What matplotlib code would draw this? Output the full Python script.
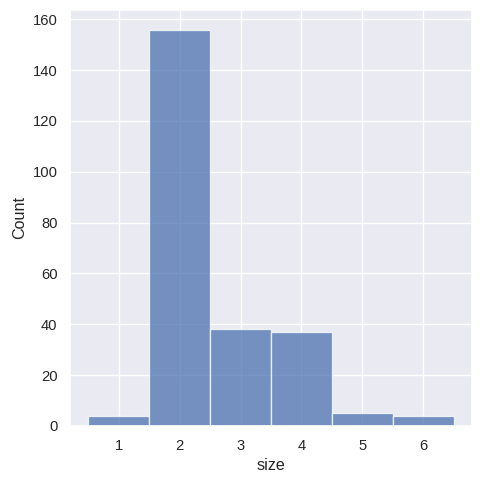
import matplotlib
matplotlib.use("Agg")
import matplotlib.pyplot as plt
import seaborn as sns

sizes = [1, 2, 3, 4, 5, 6]
counts = [4, 156, 38, 37, 5, 4]

sns.set_theme()
plt.rcParams["font.family"] = ["Liberation Sans", "DejaVu Sans"]

fig, ax = plt.subplots(figsize=(5, 5), dpi=96.8)
ax.bar(sizes, counts, width=1.0, color="#4C72B0", alpha=0.75,
       edgecolor="white", linewidth=1)
ax.set_xlabel("size")
ax.set_ylabel("Count")
ax.set_xticks(sizes)
ax.set_xlim(0.2, 6.8)
ax.set_ylim(0, 163.8)

fig.subplots_adjust(left=0.145, right=0.975, top=0.98, bottom=0.12)
fig.savefig("out.png")
